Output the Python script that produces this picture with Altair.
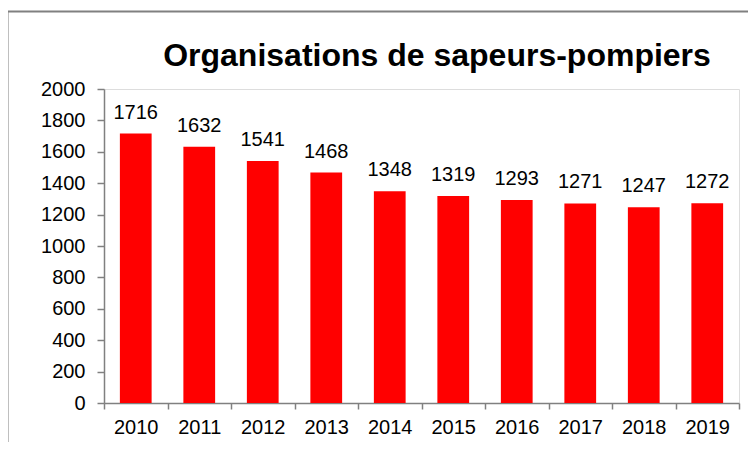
import altair as alt
import pandas as pd

years = ["2010", "2011", "2012", "2013", "2014", "2015", "2016", "2017", "2018", "2019"]
counts = [1716, 1632, 1541, 1468, 1348, 1319, 1293, 1271, 1247, 1272]
title_text = "Organisations de sapeurs-pompiers"
y_ticks = list(range(0, 2001, 200))

df = pd.DataFrame({"year": years, "count": counts})

FONT = "Liberation Sans"
GRAY = "#808080"

x_enc = alt.X(
    "year:N",
    sort=years,
    title=None,
    scale=alt.Scale(paddingInner=0, paddingOuter=0),
    axis=alt.Axis(
        labelAngle=0,
        labelFont=FONT,
        labelFontSize=20,
        labelColor="black",
        labelPadding=8,
        tickBand="extent",
        tickSize=6,
        tickColor=GRAY,
        tickWidth=1.5,
        domainColor=GRAY,
        domainWidth=1.5,
        grid=False,
    ),
)
y_enc = alt.Y(
    "count:Q",
    title=None,
    scale=alt.Scale(domain=[0, 2000], nice=False),
    axis=alt.Axis(
        values=y_ticks,
        format="d",
        labelOverlap=False,
        labelFont=FONT,
        labelFontSize=20,
        labelColor="black",
        labelPadding=12,
        tickSize=7,
        tickColor=GRAY,
        tickWidth=1.5,
        domainColor=GRAY,
        domainWidth=1.5,
        grid=False,
    ),
)

base = alt.Chart(df)

bars = base.mark_bar(color="#ff0000", width=alt.RelativeBandSize(0.5)).encode(x=x_enc, y=y_enc)

labels = base.mark_text(
    font=FONT, fontSize=20, color="black", baseline="alphabetic", dy=-15
).encode(x=x_enc, y=y_enc, text="count:Q")

frame = alt.Chart(alt.Data(values=[{}])).mark_rect(
    fill=None, stroke=GRAY, strokeWidth=2, clip=False
).encode(
    x=alt.value(-96.5), x2=alt.value(800),
    y=alt.value(-77.5), y2=alt.value(500),
)

title = alt.Chart(alt.Data(values=[{}])).mark_text(
    font=FONT, fontSize=32, fontWeight="bold", color="black",
    align="center", baseline="alphabetic",
).encode(
    text=alt.value(title_text),
    x=alt.value(333),
    y=alt.value(-23),
)

chart = (
    alt.layer(frame, bars, labels, title)
    .properties(
        width=635,
        height=314,
        autosize=alt.AutoSizeParams(type="none"),
        padding={"left": 96, "top": 81, "right": 9, "bottom": 39},
    )
    .configure_view(stroke=None)
    .configure_axis(labelOverlap=False)
    .configure(background="white")
)

chart.save("out.html", embed_options={"renderer": "svg", "actions": False})
